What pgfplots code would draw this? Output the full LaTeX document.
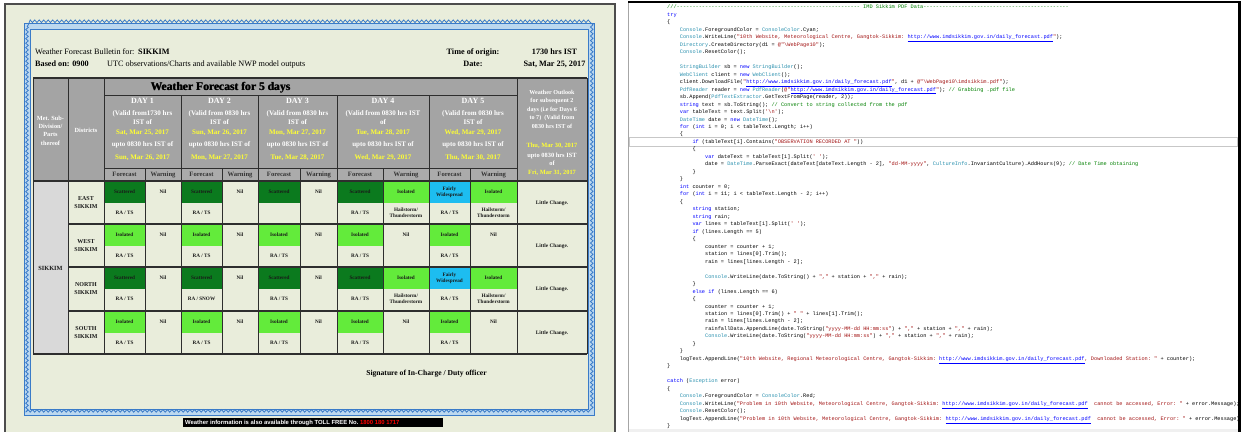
\documentclass[border=0pt]{standalone}
\usepackage{pgfplots}
\pgfplotsset{compat=1.18}
\usetikzlibrary{decorations.pathmorphing}
\usepackage{fontspec}
\setmainfont{Liberation Serif}
\setsansfont{Liberation Sans}
\setmonofont{Liberation Mono}
\definecolor{paper}{HTML}{E9EDDB}
\definecolor{framec}{HTML}{4D4D4D}
\definecolor{hdr}{HTML}{A4A4A4}
\definecolor{hdrb}{HTML}{ABABAB}
\definecolor{metg}{HTML}{D9D9D9}
\definecolor{scat}{HTML}{0B7A1E}
\definecolor{iso}{HTML}{63EB3B}
\definecolor{fwc}{HTML}{1DBDF0}
\definecolor{yel}{HTML}{FFFF33}
\definecolor{lc}{HTML}{2E2E2E}
\definecolor{bandl}{HTML}{BCD8EF}
\definecolor{bandd}{HTML}{3A7BC8}
\definecolor{kw}{HTML}{0000FF}
\definecolor{ty}{HTML}{2B91AF}
\definecolor{str}{HTML}{A31515}
\definecolor{cmc}{HTML}{008000}
\newcommand\fs[1]{\fontsize{#1}{#1}\selectfont}
\newcommand\kw[1]{\textcolor{kw}{#1}}
\newcommand\ty[1]{\textcolor{ty}{#1}}
\newcommand\st[1]{\textcolor{str}{#1}}
\newcommand\cm[1]{\textcolor{cmc}{#1}}
\newcommand\lnk[1]{\textcolor{kw}{\underline{#1}}}
\newcommand\url{http://www.imdsikkim.gov.in/daily\_forecast.pdf}
\tikzset{
 hw/.style={text=white,font=\bfseries\fontsize{7}{8}\selectfont,inner sep=0,align=center},
 hy/.style={hw,text=yel},
 hb/.style={text=black!80,font=\bfseries\fontsize{6.6}{7}\selectfont,inner sep=0},
 body/.style={text=black!90,font=\bfseries\fontsize{5.2}{6.4}\selectfont,inner sep=0,align=center},
 code/.style={anchor=base west,inner sep=0,font=\ttfamily\fontsize{5.27}{7.48}\selectfont},
}
% forecast cell: x1 x2 top colour label bottomtext
\newcommand\fcell[6]{%
 \fill[#4] (#1,#3) rectangle (#2,{#3+21.5});
 \node[body] at ({(#1+#2)/2},{#3+11}) {#5};
 \node[body] at ({(#1+#2)/2},{#3+32}) {#6};}
\newcommand\ncell[3]{\node[body] at ({(#1+#2)/2},{#3+11}) {Nil};}
\newcommand\icell[3]{%
 \fill[iso] (#1,#3) rectangle (#2,{#3+21.5});
 \node[body] at ({(#1+#2)/2},{#3+11}) {Isolated};
 \node[body] at ({(#1+#2)/2},{#3+32}) {Hailstorm/\\Thunderstorm};}
\newcommand\lcell[1]{\node[body,font=\bfseries\fontsize{5.3}{6}\selectfont] at (552,{#1+22}) {Little Change.};}
\newcommand\dist[2]{\node[body,font=\bfseries\fontsize{6}{8.6}\selectfont] at (86,{#1+21.5}) {#2\\SIKKIM};}
% day header: x1 x2 n line1 line2 yellow1 yellow2
\newcommand\dayhdr[7]{%
 \node[hw,font=\bfseries\fs{8}] at ({(#1+#2)/2},101) {DAY #3};
 \node[hw] at ({(#1+#2)/2},113.5) {#4};
 \node[hw] at ({(#1+#2)/2},122.5) {#5};
 \node[hy] at ({(#1+#2)/2},132.5) {#6};
 \node[hw] at ({(#1+#2)/2},145) {upto 0830 hrs IST of};
 \node[hy] at ({(#1+#2)/2},158) {#7};}
\newcommand\fwl[3]{%
 \node[hb] at ({(#1+#2)/2},174.5) {Forecast};
 \node[hb] at ({(#2+#3)/2},174.5) {Warning};}
\newcommand\vl[4][0.8pt]{\draw[lc,line width=#1] (#2,#3) -- (#2,#4);}
\newcommand\cl[3]{\node[code] at ({667+12.65*#1},{8.8+7.48*(#2-1)}) {#3};}
\begin{document}
\begin{tikzpicture}
\begin{axis}[width=1243pt,height=432pt,scale only axis,
  xmin=0,xmax=1243,ymin=0,ymax=432,y dir=reverse,hide axis,clip=false]
% ================= LEFT PANEL =================
\fill[white] (0,0) rectangle (1243,432);
\fill[paper] (5,4) rectangle (615,432);
\draw[framec,line width=2pt] (5,432) -- (5,4) -- (615,4) -- (615,432);
% decorative blue border
\fill[bandl,even odd rule] (24,23) rectangle (594,415) (30,29) rectangle (588,409);
\draw[bandd,line width=0.6pt] (24,23) rectangle (594,415);
\draw[bandd,line width=0.6pt] (30,29) rectangle (588,409);
\draw[bandd,line width=0.8pt,decorate,decoration={snake,amplitude=1.3pt,segment length=4.5pt}] (27,26) rectangle (591,412);
% heading text
\node[anchor=base west,inner sep=0,font=\fs{8.2}] at (35,54) {Weather Forecast Bulletin for:};
\node[anchor=base west,inner sep=0,font=\bfseries\fs{8.2}] at (138,54) {SIKKIM};
\node[anchor=base west,inner sep=0,font=\bfseries\fs{8.2}] at (35,66) {Based on: 0900};
\node[anchor=base west,inner sep=0,font=\fs{8.2}] at (107,66) {UTC observations/Charts and available NWP model outputs};
\node[anchor=base,inner sep=0,font=\bfseries\fs{8.2}] at (473,54) {Time of origin:};
\node[anchor=base,inner sep=0,font=\bfseries\fs{8.2}] at (473,66) {Date:};
\node[anchor=base,inner sep=0,font=\bfseries\fs{8.2}] at (554.5,54) {1730 hrs IST};
\node[anchor=base,inner sep=0,font=\bfseries\fs{8.2}] at (554.5,66) {Sat, Mar 25, 2017};
% table backgrounds
\fill[hdr] (33,78) rectangle (587,181);
\fill[hdrb] (104,168) rectangle (517,181);
\fill[metg] (33,181) rectangle (68,354);
% header texts
\node[inner sep=0,font=\bfseries\fs{11.6}] at (220.3,87.5) {Weather Forecast for 5 days};
\node[inner sep=0,font=\bfseries\fs{11.6}] at (220.8,87.5) {Weather Forecast for 5 days};
\node[hw,font=\bfseries\fontsize{6.3}{8.4}\selectfont] at (50.5,130.5) {Met. Sub-\\Division/\\Parts\\thereof};
\node[hw,font=\bfseries\fs{6.3}] at (86,130) {Districts};
\dayhdr{104}{181}{1}{(Valid from1730 hrs}{IST of}{Sat, Mar 25, 2017}{Sun, Mar 26, 2017}
\dayhdr{181}{258}{2}{(Valid from 0830 hrs}{IST of}{Sun, Mar 26, 2017}{Mon, Mar 27, 2017}
\dayhdr{258}{337}{3}{(Valid from 0830 hrs}{IST of}{Mon, Mar 27, 2017}{Tue, Mar 28, 2017}
\dayhdr{337}{429}{4}{(Valid from 0830 hrs IST}{of}{Tue, Mar 28, 2017}{Wed, Mar 29, 2017}
\dayhdr{429}{517}{5}{(Valid from 0830 hrs}{IST of}{Wed, Mar 29, 2017}{Thu, Mar 30, 2017}
\fwl{104}{145}{181}
\fwl{181}{222}{258}
\fwl{258}{300}{337}
\fwl{337}{383}{429}
\fwl{429}{470}{517}
\node[hw,font=\bfseries\fontsize{6.1}{8.5}\selectfont] at (552,109) {Weather Outlook\\for subsequent 2\\days (i.e for Days 6\\to 7) \ (Valid from\\0830 hrs IST of};
\node[hy,font=\bfseries\fs{6.4}] at (552,146) {Thu, Mar 30, 2017};
\node[hw,font=\bfseries\fontsize{6.4}{8.2}\selectfont] at (552,159) {upto 0830 hrs IST\\of};
\node[hy,font=\bfseries\fs{6.4}] at (552,173) {Fri, Mar 31, 2017};
% body
\node[body,font=\bfseries\fs{6.3}] at (50.5,268) {SIKKIM};
\dist{181}{EAST}
\dist{224}{WEST}
\dist{267}{NORTH}
\dist{311}{SOUTH}
% EAST
\fcell{104}{145}{181}{scat}{Scattered}{RA / TS}
\ncell{145}{181}{181}
\fcell{181}{222}{181}{scat}{Scattered}{RA / TS}
\ncell{222}{258}{181}
\fcell{258}{300}{181}{scat}{Scattered}{}
\ncell{300}{337}{181}
\fcell{337}{383}{181}{scat}{Scattered}{RA / TS}
\icell{383}{429}{181}
\fcell{429}{470}{181}{fwc}{Fairly\\Widespread}{RA / TS}
\icell{470}{517}{181}
\lcell{181}
% WEST
\fcell{104}{145}{224}{iso}{Isolated}{RA / TS}
\ncell{145}{181}{224}
\fcell{181}{222}{224}{iso}{Isolated}{RA / TS}
\ncell{222}{258}{224}
\fcell{258}{300}{224}{iso}{Isolated}{RA / TS}
\ncell{300}{337}{224}
\fcell{337}{383}{224}{iso}{Isolated}{RA / TS}
\ncell{383}{429}{224}
\fcell{429}{470}{224}{iso}{Isolated}{RA / TS}
\ncell{470}{517}{224}
\lcell{224}
% NORTH
\fcell{104}{145}{267}{scat}{Scattered}{RA / TS}
\ncell{145}{181}{267}
\fcell{181}{222}{267}{scat}{Scattered}{RA / SNOW}
\ncell{222}{258}{267}
\fcell{258}{300}{267}{scat}{Scattered}{RA / TS}
\ncell{300}{337}{267}
\fcell{337}{383}{267}{scat}{Scattered}{RA / TS}
\icell{383}{429}{267}
\fcell{429}{470}{267}{fwc}{Fairly\\Widespread}{RA / TS}
\icell{470}{517}{267}
\lcell{267}
% SOUTH
\fcell{104}{145}{311}{iso}{Isolated}{RA / TS}
\ncell{145}{181}{311}
\fcell{181}{222}{311}{iso}{Isolated}{RA / TS}
\ncell{222}{258}{311}
\fcell{258}{300}{311}{iso}{Isolated}{RA / TS}
\ncell{300}{337}{311}
\fcell{337}{383}{311}{iso}{Isolated}{RA / TS}
\ncell{383}{429}{311}
\fcell{429}{470}{311}{iso}{Isolated}{RA / TS}
\ncell{470}{517}{311}
\lcell{311}
% grid lines
\draw[lc,line width=1.1pt] (33,78) -- (587,78);
\draw[lc,line width=0.8pt] (104,95) -- (517,95);
\draw[lc,line width=0.8pt] (104,168) -- (517,168);
\draw[lc,line width=1.2pt] (33,181) -- (587,181);
\draw[lc,line width=1.1pt] (68,224) -- (587,224);
\draw[lc,line width=1.1pt] (68,267) -- (587,267);
\draw[lc,line width=1.1pt] (68,311) -- (587,311);
\draw[lc,line width=1.2pt] (33,354) -- (587,354);
\vl{33}{78}{354} \vl{68}{78}{354} \vl{104}{78}{354} \vl{517}{78}{354} \vl{587}{78}{354}
\vl{181}{95}{354} \vl{258}{95}{354} \vl{337}{95}{354} \vl{429}{95}{354}
\vl[0.7pt]{145}{168}{354} \vl[0.7pt]{222}{168}{354} \vl[0.7pt]{300}{168}{354} \vl[0.7pt]{383}{168}{354} \vl[0.7pt]{470}{168}{354}
% signature and footer
\node[anchor=base,inner sep=0,font=\bfseries\fs{7.6}] at (426.5,375.5) {Signature of In-Charge / Duty officer};
\fill[black] (183,418) rectangle (443,427);
\node[anchor=base west,inner sep=0,font=\sffamily\bfseries\fs{5.9}] at (185,424.6) {\textcolor{white}{Weather information is also available through TOLL FREE No.}\ \textcolor{red}{1800 180 1717}};
% ================= RIGHT PANEL =================
\draw[black!35,line width=0.8pt] (628.5,3) -- (628.5,432);
\draw[black!22,line width=0.7pt] (629.5,137.5) rectangle (1237.5,146.5);
\cl{0}{1}{\cm{///---------------------------------------------------------- IMD Sikkim PDF Data----------------------------------------------}}
\cl{0}{2}{\kw{try}}
\cl{0}{3}{\{}
\cl{1}{4}{\ty{Console}.ForegroundColor = \ty{ConsoleColor}.Cyan;}
\cl{1}{5}{\ty{Console}.WriteLine(\st{"10th Website, Meteorological Centre, Gangtok-Sikkim: }\lnk{\url}\st{"});}
\cl{1}{6}{\ty{Directory}.CreateDirectory(d1 = \st{@"\textbackslash WebPage10"});}
\cl{1}{7}{\ty{Console}.ResetColor();}
\cl{1}{9}{\ty{StringBuilder} sb = \kw{new} \ty{StringBuilder}();}
\cl{1}{10}{\ty{WebClient} client = \kw{new} \ty{WebClient}();}
\cl{1}{11}{client.DownloadFile(\st{"}\lnk{\url}\st{"}, d1 + \st{@"\textbackslash WebPage10\textbackslash imdsikkim.pdf"});}
\cl{1}{12}{\ty{PdfReader} reader = \kw{new} \ty{PdfReader}(\st{@"}\lnk{\url}\st{"}); \cm{// Grabbing .pdf file}}
\cl{1}{13}{sb.Append(\ty{PdfTextExtractor}.GetTextFromPage(reader, 2));}
\cl{1}{14}{\kw{string} text = sb.ToString(); \cm{// Convert to string collected from the pdf}}
\cl{1}{15}{\kw{var} tableText = text.Split(\st{'\textbackslash n'});}
\cl{1}{16}{\ty{DateTime} date = \kw{new} \ty{DateTime}();}
\cl{1}{17}{\kw{for} (\kw{int} i = 0; i < tableText.Length; i++)}
\cl{1}{18}{\{}
\cl{2}{19}{\kw{if} (tableText[i].Contains(\st{"OBSERVATION RECORDED AT "}))}
\cl{2}{20}{\{}
\cl{3}{21}{\kw{var} dateText = tableText[i].Split(\st{' '});}
\cl{3}{22}{date = \ty{DateTime}.ParseExact(dateText[dateText.Length - 2], \st{"dd-MM-yyyy"}, \ty{CultureInfo}.InvariantCulture).AddHours(9); \cm{// Date Time obtaining}}
\cl{2}{23}{\}}
\cl{1}{24}{\}}
\cl{1}{25}{\kw{int} counter = 0;}
\cl{1}{26}{\kw{for} (\kw{int} i = 11; i < tableText.Length - 2; i++)}
\cl{1}{27}{\{}
\cl{2}{28}{\kw{string} station;}
\cl{2}{29}{\kw{string} rain;}
\cl{2}{30}{\kw{var} lines = tableText[i].Split(\st{' '});}
\cl{2}{31}{\kw{if} (lines.Length == 5)}
\cl{2}{32}{\{}
\cl{3}{33}{counter = counter + 1;}
\cl{3}{34}{station = lines[0].Trim();}
\cl{3}{35}{rain = lines[lines.Length - 2];}
\cl{3}{37}{\ty{Console}.WriteLine(date.ToString() + \st{","} + station + \st{","} + rain);}
\cl{2}{38}{\}}
\cl{2}{39}{\kw{else if} (lines.Length == 6)}
\cl{2}{40}{\{}
\cl{3}{41}{counter = counter + 1;}
\cl{3}{42}{station = lines[0].Trim() + \st{" "} + lines[1].Trim();}
\cl{3}{43}{rain = lines[lines.Length - 2];}
\cl{3}{44}{rainfallData.AppendLine(date.ToString(\st{"yyyy-MM-dd HH:mm:ss"}) + \st{","} + station + \st{","} + rain);}
\cl{3}{45}{\ty{Console}.WriteLine(date.ToString(\st{"yyyy-MM-dd HH:mm:ss"}) + \st{","} + station + \st{","} + rain);}
\cl{2}{46}{\}}
\cl{1}{47}{\}}
\cl{1}{48}{logText.AppendLine(\st{"10th Website, Regional Meteorological Centre, Gangtok-Sikkim: }\lnk{\url}\st{, Downloaded Station: "} + counter);}
\cl{0}{49}{\}}
\cl{0}{51}{\kw{catch} (\ty{Exception} error)}
\cl{0}{52}{\{}
\cl{1}{53}{\ty{Console}.ForegroundColor = \ty{ConsoleColor}.Red;}
\cl{1}{54}{\ty{Console}.WriteLine(\st{"Problem in 10th Website, Meteorological Centre, Gangtok-Sikkim: }\lnk{\url}\st{\ \ cannot be accessed, Error: "} + error.Message);}
\cl{1}{55}{\ty{Console}.ResetColor();}
\cl{1}{56}{logText.AppendLine(\st{"Problem in 10th Website, Meteorological Centre, Gangtok-Sikkim: }\lnk{\url}\st{\ \ cannot be accessed, Error: "} + error.Message);}
\cl{0}{57}{\}}
\fill[white] (1238,0) rectangle (1250,432);
\fill[black!6] (629,428.5) rectangle (1238,432);
\draw[black,line width=2.4pt] (628,2) -- (1239.5,2) -- (1239.5,432);
\end{axis}
\pgfresetboundingbox
\path[use as bounding box] (current axis.south west) rectangle (current axis.north east);
\end{tikzpicture}
\end{document}
